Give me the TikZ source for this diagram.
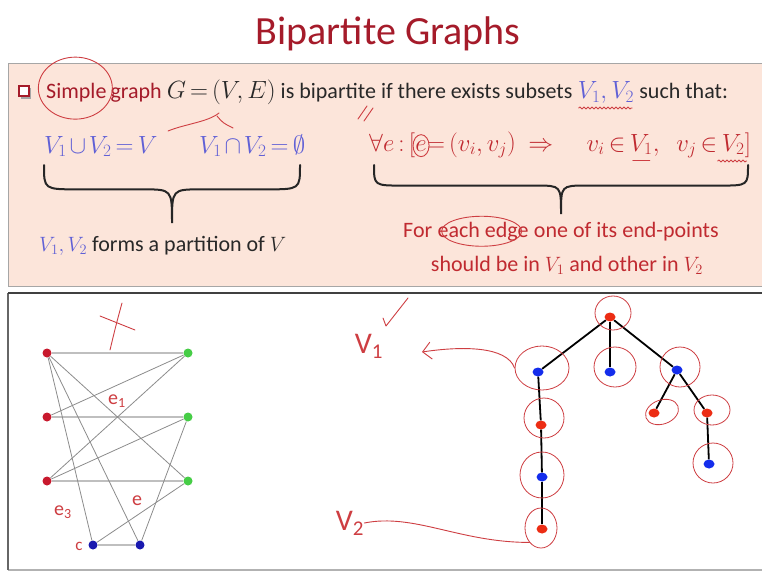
\documentclass[tikz,border=0pt]{standalone}
\usepackage{fontspec}
\setmainfont{Carlito}
\usetikzlibrary{arrows.meta, calc, positioning, shapes.geometric, decorations.pathmorphing}

\definecolor{titlered}{RGB}{165,27,42}
\definecolor{boxpink}{RGB}{252,229,218}
\definecolor{setblue}{RGB}{96,96,214}
\definecolor{rulered}{RGB}{192,42,48}
\definecolor{inkred}{RGB}{206,62,66}
\definecolor{textgray}{RGB}{40,40,40}
\definecolor{dotred}{RGB}{200,25,45}
\definecolor{dotgreen}{RGB}{70,205,70}
\definecolor{dotblue}{RGB}{25,25,175}
\definecolor{treered}{RGB}{236,45,20}
\definecolor{treeblue}{RGB}{20,45,236}

% math of the headline, a bit larger than its text
\newcommand{\headmath}[1]{{\fontsize{23}{26}\selectfont$#1$}}

% curly brace of the slide: left x, right x, top y, tip y
\newcommand{\slidebrace}[4]{%
  \pgfmathsetmacro{\bmid}{(#1+#2)/2}
  \pgfmathsetmacro{\bbar}{#3+0.42*(#4-#3)}
  \pgfmathsetmacro{\bcurl}{0.42*(#4-#3)}
  \draw[bracestroke] (#1,#3) .. controls (#1,\bbar) .. (#1+1.4*\bcurl,\bbar)
    -- (\bmid-1.2*\bcurl,\bbar) .. controls (\bmid,\bbar) .. (\bmid,#4)
    .. controls (\bmid,\bbar) .. (\bmid+1.2*\bcurl,\bbar)
    -- (#2-1.4*\bcurl,\bbar) .. controls (#2,\bbar) .. (#2,#3);}

\begin{document}
\begin{tikzpicture}[x=1pt, y=-1pt, >={Straight Barb[length=3mm]},
  every node/.style={inner sep=0pt, text=textgray},
  slide/.style={font={\fontsize{22}{26}\selectfont\thickmuskip=3mu\medmuskip=2mu}, anchor=base west},
  formula/.style={slide, font={\fontsize{25}{28}\selectfont\thickmuskip=3mu\medmuskip=2mu}},
  bracestroke/.style={draw=black!85, line width=2pt, line cap=round},
  hand/.style={draw=inkred, line width=0.9pt, line cap=round, line join=round},
  squiggle/.style={hand, decorate, decoration={snake, amplitude=1pt, segment length=4pt}},
  handtext/.style={text=inkred, font=\fontsize{20}{20}\selectfont},
  gdot/.style={circle, minimum size=9pt},
  tdot/.style={ellipse, minimum width=11pt, minimum height=9pt},
  ring/.style={ellipse, draw=inkred, line width=0.8pt},
  hedge/.style={draw=black!25, line width=2pt},
  gedge/.style={draw=black!45, line width=0.8pt},
  tedge/.style={draw=black, line width=1.8pt}]
  \useasboundingbox (0,0) rectangle (762,575);
  \fill[white] (0,0) rectangle (762,575);

  % slide boxes
  \fill[boxpink] (8,64) rectangle (762,286);
  \draw[black!35, line width=1pt] (762,64) -- (8,64) -- (8,286) -- (762,286);
  \draw[black!30, line width=1.5pt] (8,570) -- (762,570);
  \draw[black!60, line width=1.2pt] (8,293) -- (8,570);
  \draw[black!75, line width=2.5pt] (8,293) -- (762,293);

  \node[text=titlered, font=\fontsize{40}{40}\selectfont, anchor=base] (title) at (388,45) {Bipartite Graphs};

  % definition
  \fill[black!35] (21,88) rectangle (31,99);
  \node[draw=titlered, fill=white, line width=1.3pt, minimum size=10pt] (box) at (24,91) {};
  \node[slide, text=titlered] (simple) at (46,99) {Simple};
  \node[slide] (defn) at (simple.base east) {\textcolor{titlered}{\,graph} \headmath{G=(V,E)} is bipartite if there exists subsets};
  \node[slide, text=setblue] (subsets) at (defn.base east) {\ \headmath{V_1,V_2}};
  \node[slide] (that) at (subsets.base east) {\ such that:};

  \node[formula, text=setblue] (union) at (44,153) {$V_1\cup V_2=V$};
  \node[formula, text=setblue] (inter) at (199,153) {$V_1\cap V_2=\emptyset$};
  \node[formula, text=rulered] (forall) at (369,151) {$\forall e : [$};
  \node[formula, text=rulered] (edge) at (forall.base east) {$e$};
  \node[formula, text=rulered] (pair) at (edge.base east) {$=\bigl(v_i,v_j\bigr)\;\;\Rightarrow\quad\; v_i\in{}$};
  \node[formula, text=rulered] (vone) at (pair.base east) {$V_1$};
  \node[formula, text=rulered] (mid) at (vone.base east) {$,\;\;\; v_j\in{}$};
  \node[formula, text=rulered] (vtwo) at (mid.base east) {$V_2$};
  \node[formula, text=rulered] (close) at (vtwo.base east) {$]$};

  \slidebrace{44}{300}{165}{223}
  \slidebrace{374}{748}{165}{214}

  \node[slide] (partition) at (39,251) {\textcolor{setblue}{$V_1,V_2$} forms a partition of $V$};
  \node[slide, text=rulered] (for) at (403,237) {For};
  \node[slide, text=rulered] (eachedge) at (for.base east) {\ each edge};
  \node[slide, text=rulered] (endpoints) at (eachedge.base east) {\ one of its end-points};
  \node[slide, text=rulered, anchor=base] (shouldbe) at (567,271) {should be in $V_1$ and other in $V_2$};

  % ink on the definition
  \draw[hand] ($(simple.center)+(-1,-5)$) ellipse [x radius=37, y radius=31];
  \draw[hand] (168,131) .. controls (185,124) and (208,122) .. (219,113);
  \draw[hand] (217,116) .. controls (223,123) .. (233,128);
  \draw[hand] (358,119) -- (367,106);
  \draw[hand] (364,121) -- (373,108);
  \draw[squiggle] ($(subsets.base west)+(6,9)$) -- ($(subsets.base east)+(-2,9)$);
  \draw[hand] (edge.center) ellipse [x radius=8, y radius=11];
  \draw[hand] ($(vone.base west)+(3,9)$) -- ($(vone.base east)+(-3,9)$);
  \draw[squiggle] ($(vtwo.base west)+(-4,10)$) -- ($(vtwo.base east)+(2,10)$);
  \draw[hand] ($(eachedge.center)+(1,0)$) ellipse [x radius=40, y radius=15];

  % graph that is not bipartite
  \foreach \n/\y in {1/353, 2/417, 3/481} {
    \node[gdot, fill=dotred] (r\n) at (47,\y) {};
    \node[gdot, fill=dotgreen] (g\n) at (188,\y) {};
  }
  \node[gdot, fill=dotblue] (b1) at (93,545) {};
  \node[gdot, fill=dotblue] (b2) at (140,545) {};
  \foreach \a/\b in {r1/g1, r2/g2, r3/g3, b1/b2}
    \draw[hedge] (\a) -- (\b);
  \foreach \a/\b in {r2/g1, r3/g1, r3/g2, r1/g3, r1/b1, r1/b2, g2/b2, g3/b1}
    \draw[gedge] (\a) -- (\b);

  \draw[hand] (100,316) .. controls (115,322) .. (135,330);
  \draw[hand] (122,303) .. controls (116,325) .. (110,350);
  \node[handtext] (eone) at (117,401) {e\textsubscript{1}};
  \node[handtext] (ethree) at (63,512) {e\textsubscript{3}};
  \node[handtext] (etwo) at (137,501) {e};
  \node[handtext, font=\fontsize{17}{17}\selectfont] (cnode) at (79,546) {c};

  % tree coloured in two classes
  \node[tdot, fill=treered] (t0) at (610,317) {};
  \node[tdot, fill=treeblue] (t1) at (538,372) {};
  \node[tdot, fill=treeblue] (t2) at (610,372) {};
  \node[tdot, fill=treeblue] (t3) at (677,370) {};
  \node[tdot, fill=treered] (t4) at (541,425) {};
  \node[tdot, fill=treeblue] (t5) at (542,477) {};
  \node[tdot, fill=treered] (t6) at (542,529) {};
  \node[tdot, fill=treered] (t7) at (654,413) {};
  \node[tdot, fill=treered] (t8) at (707,413) {};
  \node[tdot, fill=treeblue] (t9) at (709,464) {};
  \foreach \a/\b in {t0/t1, t0/t2, t0/t3, t1/t4, t4/t5, t5/t6, t3/t7, t3/t8, t8/t9}
    \draw[tedge] (\a) -- (\b);

  \node[ring, minimum width=36pt, minimum height=34pt] (c0) at (613,313) {};
  \node[ring, minimum width=54pt, minimum height=44pt] (c1) at (542,368) {};
  \node[ring, minimum width=42pt, minimum height=40pt] (c2) at (615,367) {};
  \node[ring, minimum width=40pt, minimum height=40pt] (c3) at (680,367) {};
  \node[ring, minimum width=40pt, minimum height=40pt] (c4) at (544,418) {};
  \node[ring, minimum width=44pt, minimum height=46pt] (c5) at (542,475) {};
  \node[ring, minimum width=32pt, minimum height=40pt] (c6) at (541,528) {};
  \node[ring, minimum width=34pt, minimum height=24pt, rotate=20] (c7) at (662,412) {};
  \node[ring, minimum width=36pt, minimum height=30pt] (c8) at (712,410) {};
  \node[ring, minimum width=40pt, minimum height=40pt] (c9) at (713,463) {};

  \node[handtext, font=\fontsize{30}{30}\selectfont] (vsetone) at (369,346) {V\textsubscript{1}};
  \node[handtext, font=\fontsize{30}{30}\selectfont] (vsettwo) at (350,523) {V\textsubscript{2}};
  \coordinate (vonetip) at (422,352);
  \draw[hand] (383,318) -- (386,326) -- (408,298);
  \draw[hand, ->] (c1.west) .. controls +(-8,-22) and +(40,-6) .. (vonetip);
  \draw[hand] (vsettwo.east) .. controls +(50,-10) and +(-70,0) .. (c6.south west);
\end{tikzpicture}
\end{document}
